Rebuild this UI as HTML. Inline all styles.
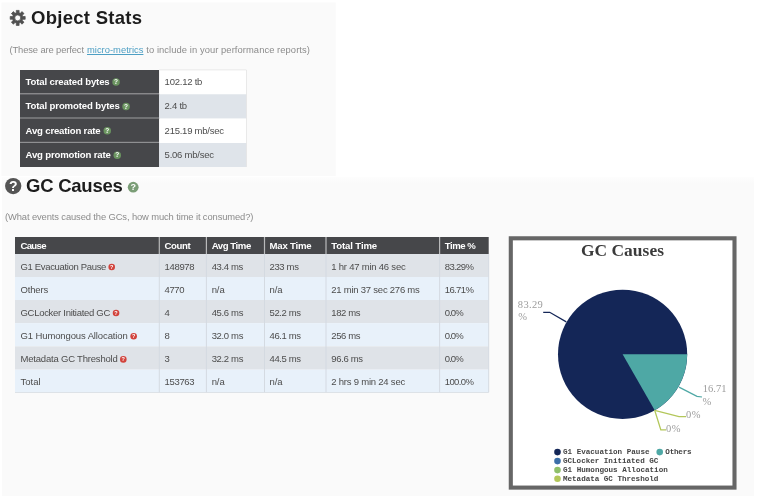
<!DOCTYPE html>
<html><head><meta charset="utf-8">
<style>
*{margin:0;padding:0}
html,body{width:758px;height:496px;background:#fff;overflow:hidden}
body{position:relative;font-family:"Liberation Sans",sans-serif}
.b{position:absolute}
.x{position:absolute;white-space:pre;will-change:opacity;opacity:0.999}
.q{position:absolute;will-change:opacity;opacity:0.999;border-radius:50%;color:#fff;font-weight:bold;text-align:center;font-family:"Liberation Sans",sans-serif}
u{text-decoration:underline}
</style></head><body>
<div class="b" style="left:1.6px;top:177.0px;width:752.4px;height:319.0px;background:linear-gradient(#fdfdfd,#fafafa 7px)"></div>
<svg class="b" style="left:0;top:0" width="758" height="496" viewBox="0 0 758 496">
<rect x="1.50" y="2.50" width="334.30" height="173.50" fill="#fafafa"/>
<rect x="20.00" y="70.00" width="139.20" height="24.30" fill="#46474a"/>
<rect x="20.00" y="93.10" width="139.20" height="1.40" fill="#8f9092"/>
<rect x="159.20" y="70.00" width="87.20" height="24.30" fill="#ffffff"/>
<rect x="20.00" y="94.30" width="139.20" height="24.30" fill="#46474a"/>
<rect x="20.00" y="117.40" width="139.20" height="1.40" fill="#8f9092"/>
<rect x="159.20" y="94.30" width="87.20" height="24.30" fill="#dfe4ea"/>
<rect x="20.00" y="118.60" width="139.20" height="24.40" fill="#46474a"/>
<rect x="20.00" y="141.80" width="139.20" height="1.40" fill="#8f9092"/>
<rect x="159.20" y="118.60" width="87.20" height="24.40" fill="#ffffff"/>
<rect x="20.00" y="143.00" width="139.20" height="24.00" fill="#46474a"/>
<rect x="159.20" y="143.00" width="87.20" height="24.00" fill="#dfe4ea"/>
<rect x="159.20" y="69.50" width="87.20" height="0.80" fill="#e4e4e4"/>
<rect x="246.00" y="70.00" width="0.80" height="97.00" fill="#e4e4e4"/>
<rect x="15.00" y="237.00" width="473.70" height="17.00" fill="#46474a"/>
<rect x="158.70" y="237.00" width="1.20" height="17.00" fill="#b9babb"/>
<rect x="205.80" y="237.00" width="1.20" height="17.00" fill="#b9babb"/>
<rect x="263.90" y="237.00" width="1.20" height="17.00" fill="#b9babb"/>
<rect x="325.40" y="237.00" width="1.20" height="17.00" fill="#b9babb"/>
<rect x="439.00" y="237.00" width="1.20" height="17.00" fill="#b9babb"/>
<rect x="15.00" y="254.00" width="473.70" height="23.00" fill="#dfe3e8"/>
<rect x="15.00" y="277.00" width="473.70" height="23.00" fill="#e8f1fa"/>
<rect x="15.00" y="300.00" width="473.70" height="23.20" fill="#dfe3e8"/>
<rect x="15.00" y="323.20" width="473.70" height="23.20" fill="#e8f1fa"/>
<rect x="15.00" y="346.40" width="473.70" height="23.20" fill="#dfe3e8"/>
<rect x="15.00" y="369.60" width="473.70" height="22.70" fill="#e8f1fa"/>
<rect x="158.80" y="254.00" width="1.00" height="138.30" fill="#d4dae1"/>
<rect x="205.90" y="254.00" width="1.00" height="138.30" fill="#d4dae1"/>
<rect x="264.00" y="254.00" width="1.00" height="138.30" fill="#d4dae1"/>
<rect x="325.50" y="254.00" width="1.00" height="138.30" fill="#d4dae1"/>
<rect x="439.10" y="254.00" width="1.00" height="138.30" fill="#d4dae1"/>
<rect x="488.20" y="254.00" width="1.00" height="138.30" fill="#d4dae1"/>
<rect x="15.00" y="392.00" width="473.70" height="0.80" fill="#d8dde3"/>
<rect x="510.80" y="238.30" width="223.70" height="249.30" fill="#fff" stroke="#666" stroke-width="4.1"/>
<circle cx="116.05" cy="82.00" r="3.75" fill="#6b9560"/>
<circle cx="126.05" cy="106.40" r="3.75" fill="#6b9560"/>
<circle cx="107.25" cy="130.80" r="3.75" fill="#6b9560"/>
<circle cx="117.25" cy="155.20" r="3.75" fill="#6b9560"/>
<circle cx="111.70" cy="267.00" r="3.30" fill="#d2433c"/>
<circle cx="116.05" cy="313.00" r="3.30" fill="#d2433c"/>
<circle cx="133.65" cy="336.20" r="3.30" fill="#d2433c"/>
<circle cx="123.30" cy="359.40" r="3.30" fill="#d2433c"/>
<circle cx="13.20" cy="186.10" r="8.15" fill="#555555"/>
<circle cx="133.20" cy="187.20" r="5.40" fill="#7a9d76"/>
</svg>
<svg class="b" style="left:0;top:0" width="40" height="40" viewBox="0 0 40 40"><path transform="translate(17.7 17.9) scale(0.93) translate(-17.7 -17.9)" fill="#505050" fill-rule="evenodd" stroke="#505050" stroke-width="0.8" stroke-linejoin="round" d="M16.29 12.38 L16.15 9.85 L19.25 9.85 L19.11 12.38 L20.61 13.00 L22.30 11.11 L24.49 13.30 L22.60 14.99 L23.22 16.49 L25.75 16.35 L25.75 19.45 L23.22 19.31 L22.60 20.81 L24.49 22.50 L22.30 24.69 L20.61 22.80 L19.11 23.42 L19.25 25.95 L16.15 25.95 L16.29 23.42 L14.79 22.80 L13.10 24.69 L10.91 22.50 L12.80 20.81 L12.18 19.31 L9.65 19.45 L9.65 16.35 L12.18 16.49 L12.80 14.99 L10.91 13.30 L13.10 11.11 L14.79 13.00Z M20.9 17.9 A3.2 3.2 0 1 0 14.5 17.9 A3.2 3.2 0 1 0 20.9 17.9Z"/></svg>
<svg class="b" style="left:0;top:0" width="758" height="496" viewBox="0 0 758 496">
<circle cx="622.600" cy="354.300" r="64.600" fill="#142657"/>
<path d="M622.600 354.300 L687.200 354.300 A64.600 64.600 0 0 1 654.700 410.300 Z" fill="#4ea8a5"/>
<polyline points="543.200,312.300 549.700,312.300 566.300,321.900" fill="none" stroke="#142657" stroke-width="1.25"/>
<polyline points="679,387.100 697,396.400 702,397" fill="none" stroke="#4ea8a5" stroke-width="1.25"/>
<polyline points="654.700,410.300 679,416.600 686,416.600" fill="none" stroke="#b3c75a" stroke-width="1.25"/>
<polyline points="654.700,410.300 660.800,429.800 666,429.800" fill="none" stroke="#b3c75a" stroke-width="1.25"/>
<circle cx="557.500" cy="452.100" r="3.300" fill="#142657"/>
<circle cx="659.700" cy="452.100" r="3.300" fill="#4ea8a5"/>
<circle cx="557.500" cy="461.100" r="3.300" fill="#3b6ea8"/>
<circle cx="557.500" cy="470.100" r="3.300" fill="#8fc06a"/>
<circle cx="557.500" cy="478.700" r="3.300" fill="#b3c75a"/>
</svg>
<div class="q" style="left:112.30px;top:78.25px;width:7.5px;height:7.5px;font-size:6.5px;line-height:7.5px">?</div>
<div class="q" style="left:122.30px;top:102.65px;width:7.5px;height:7.5px;font-size:6.5px;line-height:7.5px">?</div>
<div class="q" style="left:103.50px;top:127.05px;width:7.5px;height:7.5px;font-size:6.5px;line-height:7.5px">?</div>
<div class="q" style="left:113.50px;top:151.45px;width:7.5px;height:7.5px;font-size:6.5px;line-height:7.5px">?</div>
<div class="q" style="left:108.40px;top:263.70px;width:6.6px;height:6.6px;font-size:5.5px;line-height:6.6px">?</div>
<div class="q" style="left:112.75px;top:309.70px;width:6.6px;height:6.6px;font-size:5.5px;line-height:6.6px">?</div>
<div class="q" style="left:130.35px;top:332.90px;width:6.6px;height:6.6px;font-size:5.5px;line-height:6.6px">?</div>
<div class="q" style="left:120.00px;top:356.10px;width:6.6px;height:6.6px;font-size:5.5px;line-height:6.6px">?</div>
<div class="q" style="left:5.05px;top:177.95px;width:16.3px;height:16.3px;font-size:14px;line-height:16.3px">?</div>
<div class="q" style="left:127.80px;top:181.80px;width:10.8px;height:10.8px;font-size:9px;line-height:10.8px">?</div>
<span class="x" style="left:31.1px;top:8.84px;font:bold 18.5px/1 'Liberation Sans',sans-serif;color:#1c1c1c;letter-spacing:0.268px">Object Stats</span>
<span class="x" style="left:26.0px;top:176.94px;font:bold 18.5px/1 'Liberation Sans',sans-serif;color:#1c1c1c;letter-spacing:-0.240px">GC Causes</span>
<span class="x" style="left:9.5px;top:45.04px;font:normal 9.4px/1 'Liberation Sans',sans-serif;color:#8c8c8c;letter-spacing:-0.124px">(These are perfect</span>
<span class="x" style="left:87.0px;top:45.04px;font:normal 9.4px/1 'Liberation Sans',sans-serif;color:#4d9fc4;letter-spacing:0.013px"><u>micro-metrics</u></span>
<span class="x" style="left:146.3px;top:45.04px;font:normal 9.4px/1 'Liberation Sans',sans-serif;color:#8c8c8c;letter-spacing:0.068px">to include in your performance reports)</span>
<span class="x" style="left:5.0px;top:211.54px;font:normal 9.4px/1 'Liberation Sans',sans-serif;color:#8c8c8c;letter-spacing:-0.116px">(What events caused the GCs, how much time it consumed?)</span>
<span class="x" style="left:25.5px;top:76.87px;font:bold 9.6px/1 'Liberation Sans',sans-serif;color:#fff;letter-spacing:-0.141px">Total created bytes</span>
<span class="x" style="left:25.5px;top:101.37px;font:bold 9.6px/1 'Liberation Sans',sans-serif;color:#fff;letter-spacing:-0.134px">Total promoted bytes</span>
<span class="x" style="left:25.5px;top:125.87px;font:bold 9.6px/1 'Liberation Sans',sans-serif;color:#fff;letter-spacing:-0.177px">Avg creation rate</span>
<span class="x" style="left:25.5px;top:150.27px;font:bold 9.6px/1 'Liberation Sans',sans-serif;color:#fff;letter-spacing:-0.166px">Avg promotion rate</span>
<span class="x" style="left:164.6px;top:76.96px;font:normal 9.5px/1 'Liberation Sans',sans-serif;color:#4d4d4d;letter-spacing:-0.228px">102.12 tb</span>
<span class="x" style="left:164.6px;top:101.46px;font:normal 9.5px/1 'Liberation Sans',sans-serif;color:#4d4d4d;letter-spacing:-0.256px">2.4 tb</span>
<span class="x" style="left:164.6px;top:125.96px;font:normal 9.5px/1 'Liberation Sans',sans-serif;color:#4d4d4d;letter-spacing:-0.244px">215.19 mb/sec</span>
<span class="x" style="left:164.6px;top:150.36px;font:normal 9.5px/1 'Liberation Sans',sans-serif;color:#4d4d4d;letter-spacing:-0.235px">5.06 mb/sec</span>
<span class="x" style="left:20.5px;top:240.87px;font:bold 9.6px/1 'Liberation Sans',sans-serif;color:#fff;letter-spacing:-0.699px">Cause</span>
<span class="x" style="left:164.5px;top:240.87px;font:bold 9.6px/1 'Liberation Sans',sans-serif;color:#fff;letter-spacing:-0.405px">Count</span>
<span class="x" style="left:211.7px;top:240.87px;font:bold 9.6px/1 'Liberation Sans',sans-serif;color:#fff;letter-spacing:-0.437px">Avg Time</span>
<span class="x" style="left:269.5px;top:240.87px;font:bold 9.6px/1 'Liberation Sans',sans-serif;color:#fff;letter-spacing:-0.192px">Max Time</span>
<span class="x" style="left:331.3px;top:240.87px;font:bold 9.6px/1 'Liberation Sans',sans-serif;color:#fff;letter-spacing:-0.133px">Total Time</span>
<span class="x" style="left:444.8px;top:240.87px;font:bold 9.6px/1 'Liberation Sans',sans-serif;color:#fff;letter-spacing:-0.464px">Time %</span>
<span class="x" style="left:20.5px;top:261.96px;font:normal 9.5px/1 'Liberation Sans',sans-serif;color:#4d4d4d;letter-spacing:-0.334px">G1 Evacuation Pause</span>
<span class="x" style="left:20.5px;top:284.96px;font:normal 9.5px/1 'Liberation Sans',sans-serif;color:#4d4d4d;letter-spacing:-0.163px">Others</span>
<span class="x" style="left:20.5px;top:307.96px;font:normal 9.5px/1 'Liberation Sans',sans-serif;color:#4d4d4d;letter-spacing:-0.289px">GCLocker Initiated GC</span>
<span class="x" style="left:20.5px;top:331.16px;font:normal 9.5px/1 'Liberation Sans',sans-serif;color:#4d4d4d;letter-spacing:-0.116px">G1 Humongous Allocation</span>
<span class="x" style="left:20.5px;top:354.36px;font:normal 9.5px/1 'Liberation Sans',sans-serif;color:#4d4d4d;letter-spacing:-0.196px">Metadata GC Threshold</span>
<span class="x" style="left:20.5px;top:377.46px;font:normal 9.5px/1 'Liberation Sans',sans-serif;color:#4d4d4d;letter-spacing:0.005px">Total</span>
<span class="x" style="left:164.5px;top:261.96px;font:normal 9.5px/1 'Liberation Sans',sans-serif;color:#4d4d4d;letter-spacing:-0.321px">148978</span>
<span class="x" style="left:164.5px;top:284.96px;font:normal 9.5px/1 'Liberation Sans',sans-serif;color:#4d4d4d;letter-spacing:-0.347px">4770</span>
<span class="x" style="left:164.5px;top:307.96px;font:normal 9.5px/1 'Liberation Sans',sans-serif;color:#4d4d4d;letter-spacing:0.000px">4</span>
<span class="x" style="left:164.5px;top:331.16px;font:normal 9.5px/1 'Liberation Sans',sans-serif;color:#4d4d4d;letter-spacing:0.000px">8</span>
<span class="x" style="left:164.5px;top:354.36px;font:normal 9.5px/1 'Liberation Sans',sans-serif;color:#4d4d4d;letter-spacing:0.000px">3</span>
<span class="x" style="left:164.5px;top:377.46px;font:normal 9.5px/1 'Liberation Sans',sans-serif;color:#4d4d4d;letter-spacing:-0.321px">153763</span>
<span class="x" style="left:211.7px;top:261.96px;font:normal 9.5px/1 'Liberation Sans',sans-serif;color:#4d4d4d;letter-spacing:-0.383px">43.4 ms</span>
<span class="x" style="left:211.7px;top:284.96px;font:normal 9.5px/1 'Liberation Sans',sans-serif;color:#4d4d4d;letter-spacing:-0.109px">n/a</span>
<span class="x" style="left:211.7px;top:307.96px;font:normal 9.5px/1 'Liberation Sans',sans-serif;color:#4d4d4d;letter-spacing:-0.349px">45.6 ms</span>
<span class="x" style="left:211.7px;top:331.16px;font:normal 9.5px/1 'Liberation Sans',sans-serif;color:#4d4d4d;letter-spacing:-0.349px">32.0 ms</span>
<span class="x" style="left:211.7px;top:354.36px;font:normal 9.5px/1 'Liberation Sans',sans-serif;color:#4d4d4d;letter-spacing:-0.349px">32.2 ms</span>
<span class="x" style="left:211.7px;top:377.46px;font:normal 9.5px/1 'Liberation Sans',sans-serif;color:#4d4d4d;letter-spacing:-0.109px">n/a</span>
<span class="x" style="left:269.5px;top:261.96px;font:normal 9.5px/1 'Liberation Sans',sans-serif;color:#4d4d4d;letter-spacing:-0.351px">233 ms</span>
<span class="x" style="left:269.5px;top:284.96px;font:normal 9.5px/1 'Liberation Sans',sans-serif;color:#4d4d4d;letter-spacing:-0.109px">n/a</span>
<span class="x" style="left:269.5px;top:307.96px;font:normal 9.5px/1 'Liberation Sans',sans-serif;color:#4d4d4d;letter-spacing:-0.366px">52.2 ms</span>
<span class="x" style="left:269.5px;top:331.16px;font:normal 9.5px/1 'Liberation Sans',sans-serif;color:#4d4d4d;letter-spacing:-0.366px">46.1 ms</span>
<span class="x" style="left:269.5px;top:354.36px;font:normal 9.5px/1 'Liberation Sans',sans-serif;color:#4d4d4d;letter-spacing:-0.366px">44.5 ms</span>
<span class="x" style="left:269.5px;top:377.46px;font:normal 9.5px/1 'Liberation Sans',sans-serif;color:#4d4d4d;letter-spacing:-0.109px">n/a</span>
<span class="x" style="left:331.3px;top:261.96px;font:normal 9.5px/1 'Liberation Sans',sans-serif;color:#4d4d4d;letter-spacing:-0.221px">1 hr 47 min 46 sec</span>
<span class="x" style="left:331.3px;top:284.96px;font:normal 9.5px/1 'Liberation Sans',sans-serif;color:#4d4d4d;letter-spacing:-0.234px">21 min 37 sec 276 ms</span>
<span class="x" style="left:331.3px;top:307.96px;font:normal 9.5px/1 'Liberation Sans',sans-serif;color:#4d4d4d;letter-spacing:-0.371px">182 ms</span>
<span class="x" style="left:331.3px;top:331.16px;font:normal 9.5px/1 'Liberation Sans',sans-serif;color:#4d4d4d;letter-spacing:-0.371px">256 ms</span>
<span class="x" style="left:331.3px;top:354.36px;font:normal 9.5px/1 'Liberation Sans',sans-serif;color:#4d4d4d;letter-spacing:-0.333px">96.6 ms</span>
<span class="x" style="left:331.3px;top:377.46px;font:normal 9.5px/1 'Liberation Sans',sans-serif;color:#4d4d4d;letter-spacing:-0.219px">2 hrs 9 min 24 sec</span>
<span class="x" style="left:444.8px;top:261.96px;font:normal 9.5px/1 'Liberation Sans',sans-serif;color:#4d4d4d;letter-spacing:-0.627px">83.29%</span>
<span class="x" style="left:444.8px;top:284.96px;font:normal 9.5px/1 'Liberation Sans',sans-serif;color:#4d4d4d;letter-spacing:-0.627px">16.71%</span>
<span class="x" style="left:444.8px;top:307.96px;font:normal 9.5px/1 'Liberation Sans',sans-serif;color:#4d4d4d;letter-spacing:-0.952px">0.0%</span>
<span class="x" style="left:444.8px;top:331.16px;font:normal 9.5px/1 'Liberation Sans',sans-serif;color:#4d4d4d;letter-spacing:-0.952px">0.0%</span>
<span class="x" style="left:444.8px;top:354.36px;font:normal 9.5px/1 'Liberation Sans',sans-serif;color:#4d4d4d;letter-spacing:-0.952px">0.0%</span>
<span class="x" style="left:444.8px;top:377.46px;font:normal 9.5px/1 'Liberation Sans',sans-serif;color:#4d4d4d;letter-spacing:-0.627px">100.0%</span>
<span class="x" style="left:580.9px;top:242.33px;font:bold 17.4px/1 'Liberation Serif',serif;color:#3a3a3a;letter-spacing:0.059px">GC Causes</span>
<span class="x" style="left:517.8px;top:299.71px;font:normal 10.5px/1 'Liberation Serif',serif;color:#9c9c9c;letter-spacing:0.344px">83.29</span>
<span class="x" style="left:518.3px;top:312.21px;font:normal 10.5px/1 'Liberation Serif',serif;color:#9c9c9c;letter-spacing:0.000px">%</span>
<span class="x" style="left:702.8px;top:383.61px;font:normal 10.5px/1 'Liberation Serif',serif;color:#9c9c9c;letter-spacing:-0.006px">16.71</span>
<span class="x" style="left:702.5px;top:396.51px;font:normal 10.5px/1 'Liberation Serif',serif;color:#9c9c9c;letter-spacing:0.000px">%</span>
<span class="x" style="left:686.0px;top:410.21px;font:normal 10.5px/1 'Liberation Serif',serif;color:#9c9c9c;letter-spacing:0.400px">0%</span>
<span class="x" style="left:666.0px;top:423.51px;font:normal 10.5px/1 'Liberation Serif',serif;color:#9c9c9c;letter-spacing:0.400px">0%</span>
<span class="x" style="left:563.0px;top:449.17px;font:bold 7.6px/1 'Liberation Mono',monospace;color:#444;letter-spacing:-0.005px">G1 Evacuation Pause</span>
<span class="x" style="left:665.3px;top:449.17px;font:bold 7.6px/1 'Liberation Mono',monospace;color:#444;letter-spacing:-0.209px">Others</span>
<span class="x" style="left:563.0px;top:458.17px;font:bold 7.6px/1 'Liberation Mono',monospace;color:#444;letter-spacing:-0.020px">GCLocker Initiated GC</span>
<span class="x" style="left:563.0px;top:467.17px;font:bold 7.6px/1 'Liberation Mono',monospace;color:#444;letter-spacing:-0.001px">G1 Humongous Allocation</span>
<span class="x" style="left:563.0px;top:475.67px;font:bold 7.6px/1 'Liberation Mono',monospace;color:#444;letter-spacing:-0.020px">Metadata GC Threshold</span>
</body></html>
